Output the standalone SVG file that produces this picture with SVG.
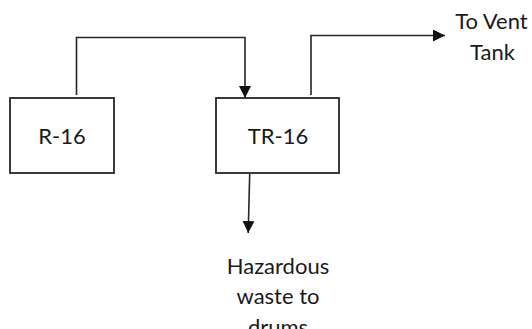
<svg xmlns="http://www.w3.org/2000/svg" width="532" height="329" viewBox="0 0 532 329">
<style>
.box{fill:#fff;stroke:#262626;stroke-width:1.8}
.ln{fill:none;stroke:#262626;stroke-width:1.6}
.t{font-family:Lato,"Open Sans",sans-serif;font-size:22px;fill:#1a1a1a;text-anchor:middle}
</style>
<defs>
<marker id="ah" markerUnits="userSpaceOnUse" markerWidth="12" markerHeight="12" viewBox="0 0 12 12" refX="12" refY="6" orient="auto">
<path d="M0,0 L12,6 L0,12 Z" fill="#111"/>
</marker>
</defs>
<rect width="532" height="329" fill="#fff"/>
<g id="connectors">
<path class="ln" d="M76.5,95 V37.5 H245 V98" marker-end="url(#ah)"/>
<path class="ln" d="M311,95 V35.5 H445" marker-end="url(#ah)"/>
<path class="ln" d="M249.7,174 L248.2,233" marker-end="url(#ah)"/>
</g>
<g id="R-16">
<rect class="box" x="10" y="98" width="104" height="75"/>
<text class="t" x="62" y="144">R-16</text>
</g>
<g id="TR-16">
<rect class="box" x="216" y="98" width="123" height="75"/>
<text class="t" x="278" y="144">TR-16</text>
</g>
<g id="vent">
<text class="t" x="491.5" y="29">To Vent</text>
<text class="t" x="492.5" y="59.5">Tank</text>
</g>
<g id="waste">
<text class="t" x="278" y="273.5">Hazardous</text>
<text class="t" x="278" y="304">waste to</text>
<text class="t" x="278" y="334.5">drums</text>
</g>
</svg>
